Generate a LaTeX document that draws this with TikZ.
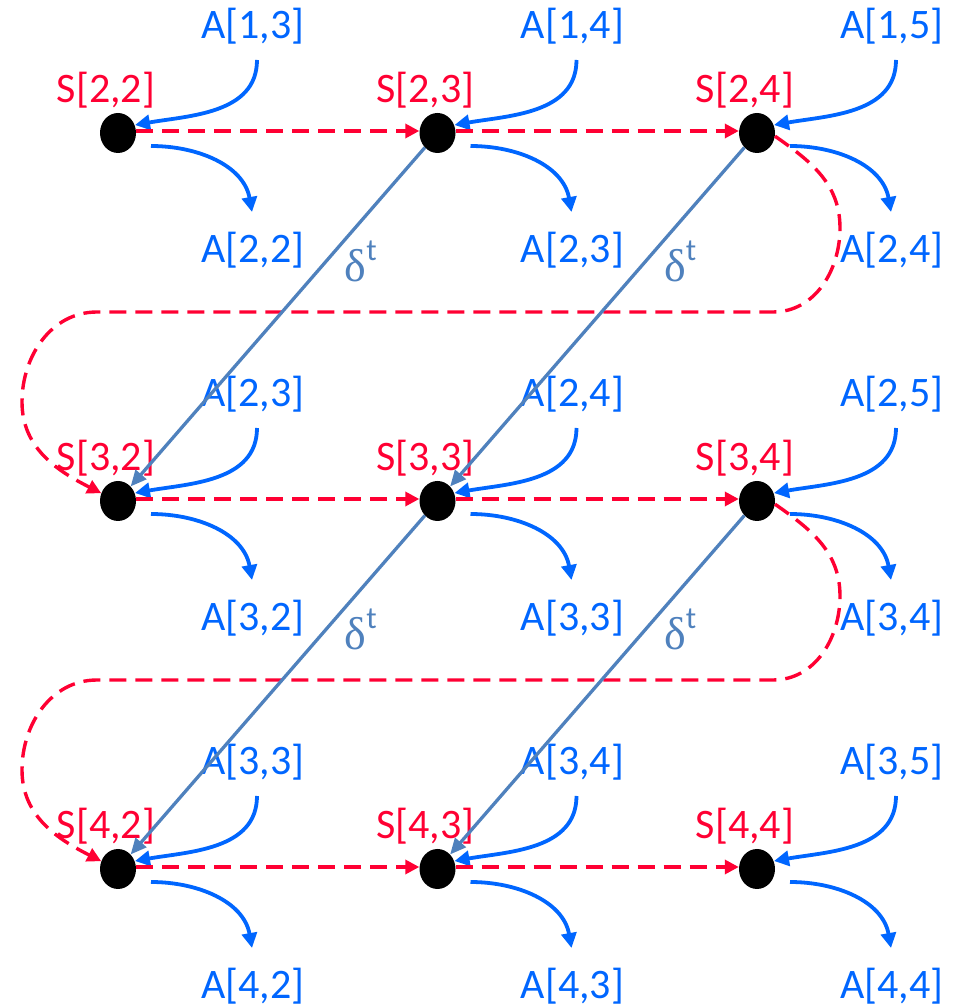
\documentclass[tikz,border=0pt]{standalone}
\usepackage{fontspec}
\setmainfont{Carlito}
\newfontfamily\serfont{Liberation Serif}
\usetikzlibrary{shapes.geometric,arrows.meta,calc}
\definecolor{ablue}{RGB}{0,102,255}
\definecolor{sred}{RGB}{255,0,51}
\definecolor{dblue}{RGB}{79,129,189}
\begin{document}
\begin{tikzpicture}[x=1pt,y=1pt,
  dot/.style={ellipse,fill=black,minimum width=36pt,minimum height=40pt,inner sep=0pt},
  slab/.style={text=sred,inner sep=0pt,font=\fontsize{42}{50}\selectfont},
  alab/.style={text=ablue,inner sep=0pt,font=\fontsize{42}{50}\selectfont},
  aarrow/.style={draw=ablue,line width=3.8pt,-{Triangle[length=15pt,width=15pt]}},
  sarrow/.style={draw=sred,line width=3.4pt,dash pattern=on 17pt off 9pt,-{Triangle[length=14pt,width=14pt]}},
  darrow/.style={draw=dblue,line width=3.3pt,-{Triangle[length=16pt,width=14pt]}},
  dlab/.style={text=dblue,inner sep=0pt,anchor=base west,font=\fontsize{46}{52}\selectfont}]
\useasboundingbox (0,0) rectangle (957,1007);
\foreach \r in {1,2,3}{\foreach \c in {1,2,3}{
  \pgfmathsetmacro\X{118+319.5*(\c-1)}
  \pgfmathsetmacro\Y{874-368*(\r-1)}
  \pgfmathtruncatemacro\sr{\r+1}
  \pgfmathtruncatemacro\sc{\c+1}
  \pgfmathtruncatemacro\tc{\c+2}
  \node[dot] (s\r\c) at (\X,\Y) {};
  \node[slab] (ls\r\c) at (\X-12,\Y+43) {S[\sr,\sc]};
  \node[alab] (at\r\c) at (\X+135,\Y+107) {A[\r,\tc]};
  \node[alab] (ab\r\c) at (\X+135,\Y-117) {A[\sr,\sc]};
  \coordinate (ia\r\c) at (\X+139,\Y+73);
  \coordinate (ie\r\c) at (\X+17,\Y+8);
  \coordinate (oa\r\c) at (\X+33,\Y-13);
  \coordinate (oe\r\c) at (\X+134,\Y-79);
  \draw[aarrow] (ia\r\c) to[out=-90,in=10] (ie\r\c);
  \draw[aarrow] (oa\r\c) to[out=0,in=100] (oe\r\c);
}}
% red horizontal dashed
\foreach \r in {1,2,3}{
  \draw[sarrow] ([yshift=2pt]s\r1.east) -- ([yshift=2pt]s\r2.west);
  \draw[sarrow] ([yshift=2pt]s\r2.east) -- ([yshift=2pt]s\r3.west);
}
% red loops
\foreach \r/\n in {1/2,2/3}{
  \draw[sarrow] (s\r3.-10) to[out=-35,in=90] ($(s\r3)+(83,-95)$)
    to[out=-90,in=0] ($(s\r3)+(16,-179)$) -- ($(s\r1)+(-21,-179)$)
    to[out=180,in=90] ($(s\r1)+(-96,-269)$) to[out=-90,in=153] (s\n1.155);
}
% delta lines
\draw[darrow] (s12) -- (s21);
\draw[darrow] (s13) -- (s22);
\draw[darrow] (s22) -- (s31);
\draw[darrow] (s23) -- (s32);
\node[dlab] (d1) at ($(s12)+(-93,-149)$) {{\serfont δ}\raisebox{21pt}{\fontsize{31}{31}\selectfont t}};
\node[dlab] (d2) at ($(s13)+(-93,-149)$) {{\serfont δ}\raisebox{21pt}{\fontsize{31}{31}\selectfont t}};
\node[dlab] (d3) at ($(s22)+(-93,-149)$) {{\serfont δ}\raisebox{21pt}{\fontsize{31}{31}\selectfont t}};
\node[dlab] (d4) at ($(s23)+(-93,-149)$) {{\serfont δ}\raisebox{21pt}{\fontsize{31}{31}\selectfont t}};
\end{tikzpicture}
\end{document}
